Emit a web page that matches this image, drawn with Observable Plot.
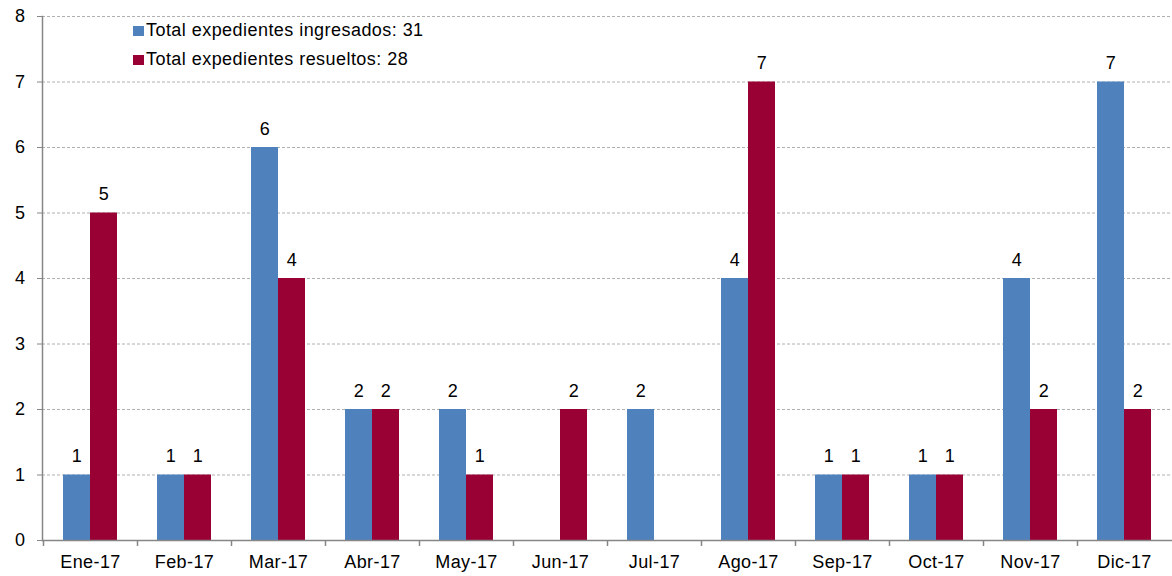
<!DOCTYPE html>
<html><head><meta charset="utf-8">
<script src="https://cdn.jsdelivr.net/npm/d3@7"></script>
<script src="https://cdn.jsdelivr.net/npm/@observablehq/plot@0.6"></script>
<style>
body{margin:0;background:#fff;font-family:"Liberation Sans",Arial,sans-serif;}
#wrap{position:relative;width:1172px;height:576px;}
#legend{position:absolute;left:133px;top:16px;font-size:18px;letter-spacing:0.45px;color:#000;}
.item{display:flex;align-items:center;height:29px;white-space:nowrap;}
.sw{width:11px;height:10px;margin-right:2px;}
svg text{letter-spacing:0.4px;}
</style></head><body><div id="wrap"><div id="legend"></div></div>
<script>
const months = ["Ene-17","Feb-17","Mar-17","Abr-17","May-17","Jun-17","Jul-17","Ago-17","Sep-17","Oct-17","Nov-17","Dic-17"];
const ingresados = [1,1,6,2,2,0,2,4,1,1,4,7];
const resueltos  = [5,1,4,2,1,2,0,7,1,1,2,2];
const seriesNames = ["Total expedientes ingresados","Total expedientes resueltos"];
const colors = ["#4F81BD","#990033"];
const yTicks = [0,1,2,3,4,5,6,7,8];

const blue = months.map((m,i)=>({month:m, value:ingresados[i]}));
const red  = months.map((m,i)=>({month:m, value:resueltos[i]}));
const axisColor = "#868686";

const chart = Plot.plot({
  width:1172, height:576,
  marginLeft:42, marginRight:0, marginTop:16, marginBottom:36,
  style:{fontFamily:"'Liberation Sans', Arial, sans-serif", fontSize:"18px", background:"#fff", color:"#000"},
  x:{domain:months, padding:0, label:null},
  y:{domain:[0,8], label:null},
  marks:[
    Plot.gridY(yTicks.filter(d=>d>0), {stroke:"#b0b0b0", strokeOpacity:1, strokeDasharray:"3,2"}),
    Plot.barY(blue, {x:"month", y:"value", fill:colors[0], insetLeft:20, insetRight:47}),
    Plot.barY(red,  {x:"month", y:"value", fill:colors[1], insetLeft:47, insetRight:20}),
    Plot.text(blue.filter(d=>d.value>0), {x:"month", y:"value", text:d=>String(d.value), dx:-13.5, dy:-13, lineAnchor:"bottom", fontSize:18, fill:"#000"}),
    Plot.text(red.filter(d=>d.value>0),  {x:"month", y:"value", text:d=>String(d.value), dx:13.5, dy:-13, lineAnchor:"bottom", fontSize:18, fill:"#000"}),
    Plot.ruleY([0], {stroke:axisColor, strokeWidth:1.5}),
    Plot.frame({anchor:"left", stroke:axisColor, strokeWidth:1.5}),
    Plot.ruleX(months, {x:d=>d, dx:-47, y1:0, y2:0, insetBottom:-6, stroke:axisColor, strokeWidth:1.5}),
    Plot.axisY({ticks:yTicks, tickSize:5, tickPadding:12, stroke:axisColor, fill:"#000", fontSize:18, label:null}),
    Plot.axisX({tickSize:0, tickPadding:15, fill:"#000", fontSize:18, label:null})
  ]
});
document.getElementById("wrap").prepend(chart);

const totals = [d3.sum(ingresados), d3.sum(resueltos)];
const legend = d3.select("#legend");
seriesNames.forEach((n,i)=>{
  const it = legend.append("div").attr("class","item");
  it.append("div").attr("class","sw").style("background",colors[i]);
  it.append("span").text(`${n}: ${totals[i]}`);
});
</script>
</body></html>
